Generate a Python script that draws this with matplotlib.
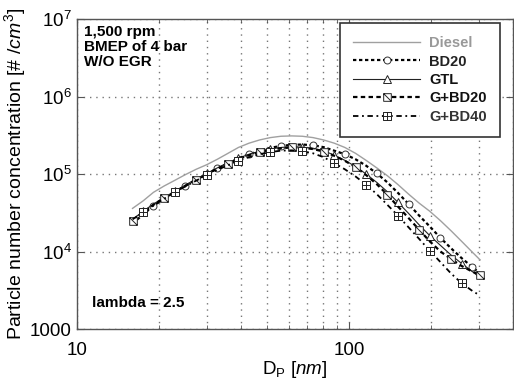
import numpy as np
import matplotlib
matplotlib.use("Agg")
import matplotlib.pyplot as plt
from matplotlib.path import Path
from matplotlib.ticker import FixedLocator, NullFormatter

plt.rcParams['font.family'] = ['Liberation Sans', 'DejaVu Sans']
plt.rcParams['mathtext.fontset'] = 'custom'
plt.rcParams['mathtext.rm'] = 'Liberation Sans'
plt.rcParams['mathtext.it'] = 'Liberation Sans:italic'
plt.rcParams['mathtext.bf'] = 'Liberation Sans:bold'

# particle diameter [nm]
dp = [16.0, 17.5, 19.1, 20.9, 22.9, 25.0, 27.4, 30.0, 32.8, 35.9, 39.2, 42.9,
      46.9, 51.4, 56.2, 61.5, 67.3, 73.7, 80.6, 88.2, 96.5, 105.6, 115.5,
      126.4, 138.3, 151.3, 165.5, 181.1, 198.1, 216.7, 237.1, 259.4, 283.9, 303.0]

diesel = [3.6e4, 4.5e4, 5.8e4, 7.0e4, 8.3e4, 9.8e4, 1.15e5, 1.32e5, 1.55e5, 1.85e5,
          2.2e5, 2.5e5, 2.75e5, 2.95e5, 3.07e5, 3.1e5, 3.07e5, 2.95e5, 2.75e5, 2.5e5,
          2.2e5, 1.85e5, 1.5e5, 1.2e5, 9.5e4, 7.3e4, 5.5e4, 4.2e4, 3.3e4, 2.5e4,
          1.85e4, 1.35e4, 9.8e3, 7.8e3]
bd20 = [2.3e4, 3.0e4, 3.9e4, 4.8e4, 5.8e4, 7.0e4, 8.5e4, 1.0e5, 1.18e5, 1.38e5,
        1.6e5, 1.8e5, 2.0e5, 2.18e5, 2.3e5, 2.38e5, 2.4e5, 2.35e5, 2.22e5, 2.0e5,
        1.8e5, 1.55e5, 1.28e5, 1.02e5, 7.8e4, 5.7e4, 4.1e4, 2.9e4, 2.1e4, 1.5e4,
        1.1e4, 8.2e3, 6.3e3, 5.2e3]
gtl = [2.6e4, 3.3e4, 4.1e4, 5.0e4, 6.0e4, 7.2e4, 8.6e4, 1.02e5, 1.2e5, 1.4e5,
       1.6e5, 1.8e5, 1.97e5, 2.1e5, 2.2e5, 2.25e5, 2.22e5, 2.15e5, 2.0e5, 1.75e5,
       1.5e5, 1.25e5, 1.0e5, 7.8e4, 5.9e4, 4.3e4, 3.1e4, 2.2e4, 1.6e4, 1.2e4,
       9.0e3, 7.0e3, 5.5e3, 4.6e3]
g_bd20 = [2.5e4, 3.2e4, 4.0e4, 4.9e4, 5.9e4, 7.0e4, 8.4e4, 1.0e5, 1.17e5, 1.36e5,
          1.56e5, 1.75e5, 1.92e5, 2.05e5, 2.15e5, 2.2e5, 2.18e5, 2.1e5, 1.95e5, 1.72e5,
          1.48e5, 1.23e5, 9.7e4, 7.4e4, 5.4e4, 3.8e4, 2.7e4, 1.9e4, 1.35e4, 1.0e4,
          8.0e3, 6.5e3, 5.5e3, 5.0e3]
g_bd40 = [2.6e4, 3.2e4, 3.9e4, 4.8e4, 5.8e4, 6.9e4, 8.2e4, 9.7e4, 1.13e5, 1.3e5,
          1.48e5, 1.65e5, 1.8e5, 1.92e5, 2.0e5, 2.02e5, 1.97e5, 1.85e5, 1.65e5, 1.38e5,
          1.15e5, 9.3e4, 7.3e4, 5.5e4, 4.0e4, 2.9e4, 2.05e4, 1.45e4, 1.02e4, 7.3e3,
          5.2e3, 3.9e3, 3.1e3, 2.7e3]

labels = ["Diesel", "BD20", "GTL", "G+BD20", "G+BD40"]
yticks = [1e3, 1e4, 1e5, 1e6, 1e7]
ytick_labels = ["1000", "$10^4$", "$10^5$", "$10^6$", "$10^7$"]

# square markers with a slash / with a cross
sq_slash = Path([(-1, -1), (1, -1), (1, 1), (-1, 1), (-1, -1), (-1, 1), (1, -1)],
                [Path.MOVETO, Path.LINETO, Path.LINETO, Path.LINETO, Path.CLOSEPOLY,
                 Path.MOVETO, Path.LINETO])
sq_plus = Path([(-1, -1), (1, -1), (1, 1), (-1, 1), (-1, -1),
                (0, -1), (0, 1), (-1, 0), (1, 0)],
               [Path.MOVETO, Path.LINETO, Path.LINETO, Path.LINETO, Path.CLOSEPOLY,
                Path.MOVETO, Path.LINETO, Path.MOVETO, Path.LINETO])

fig = plt.figure(figsize=(5.14, 3.8), dpi=100)
ax = fig.add_axes([0.1498, 0.1342, 0.848, 0.8158])

ax.plot(dp, diesel, color="#a0a0a0", lw=1.0, label=labels[0])
ax.plot(dp, bd20, color="black", lw=1.6, dashes=(1.5, 1.2), marker="o", ms=5,
        mfc="white", mec="#333333", mew=0.7, markevery=(2, 3), label=labels[1])
ax.plot(dp, gtl, color="#222222", lw=0.8, marker="^", ms=5.5, mfc="white",
        mec="#222222", mew=0.7, markevery=(1, 3), label=labels[2])
ax.plot(dp, g_bd20, color="black", lw=1.6, dashes=(2, 1.5), marker=sq_slash, ms=5.5,
        mfc="white", mec="#222222", mew=0.7, markevery=(0, 3), label=labels[3])
ax.plot(dp, g_bd40, color="black", lw=1.3, dashes=(3, 2, 1, 2), marker=sq_plus, ms=5.5,
        mfc="white", mec="#222222", mew=0.7, markevery=(1, 3), label=labels[4])

ax.set_xscale("log")
ax.set_yscale("log")
ax.set_xlim(10, 400)
ax.set_ylim(1e3, 1e7)

ax.set_yticks(yticks)
ax.set_yticklabels(ytick_labels)
ax.yaxis.set_minor_locator(FixedLocator([]))
ax.set_xticks([10, 100])
ax.set_xticklabels(["10", "100"])
ax.xaxis.set_minor_formatter(NullFormatter())

ax.tick_params(which="both", direction="in", top=True, right=True,
               labelsize=13.5, color="#555555")
ax.tick_params(which="major", length=5)
ax.tick_params(which="minor", length=3)
ax.tick_params(axis="x", pad=9)
ax.tick_params(axis="y", pad=4)

ax.grid(True, which="both", axis="x", color="#777777", lw=1.0, ls=(0, (1, 3.5)))
ax.grid(True, which="major", axis="y", color="#777777", lw=1.0, ls=(0, (1, 3.5)))
for s in ax.spines.values():
    s.set_color("#555555")
    s.set_linewidth(1.0)

ax.set_xlabel(r"D$_\mathrm{P}$ [$\mathit{nm}$]", fontsize=13.5, labelpad=0)
ax.set_ylabel(r"Particle number concentration [# /$\mathit{cm}^3$]", fontsize=14,
              labelpad=1)

ax.text(0.015, 0.98, "1,500 rpm\nBMEP of 4 bar\nW/O EGR", transform=ax.transAxes,
        fontsize=11, fontweight="bold", va="top", ha="left", linespacing=1.1)
ax.text(0.035, 0.085, "lambda = 2.5", transform=ax.transAxes, fontsize=11,
        fontweight="bold", va="center", ha="left")

leg = ax.legend(loc="upper right", bbox_to_anchor=(0.970, 0.987), borderaxespad=0,
                fancybox=False, edgecolor="#333333", framealpha=1, handlelength=4.6,
                numpoints=1, prop={"weight": "bold", "size": 10.5},
                labelspacing=0.3, borderpad=0.9, handletextpad=0.6)
leg.get_frame().set_linewidth(1.2)
for t, c in zip(leg.get_texts(), ["#999999", "#222222", "#111111", "#111111", "#333333"]):
    t.set_color(c)

fig.savefig("out.png", dpi=100)
